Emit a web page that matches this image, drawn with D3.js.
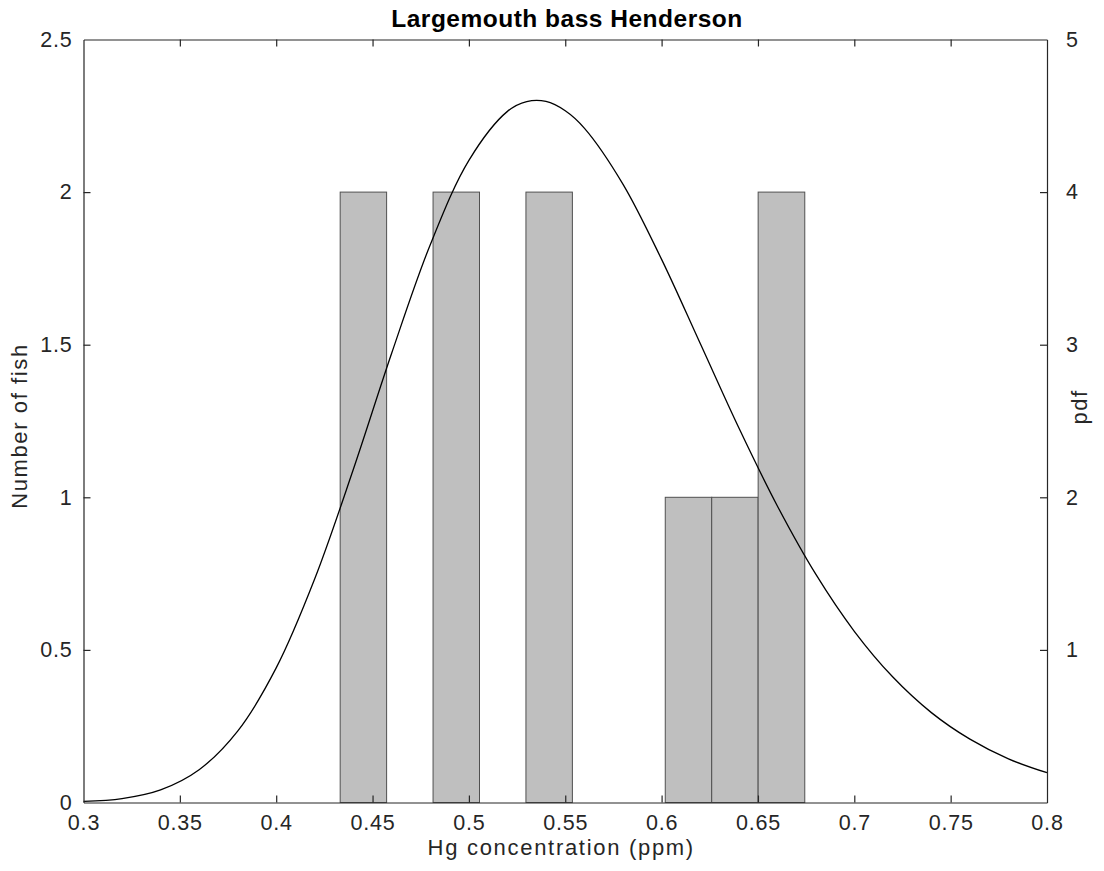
<!DOCTYPE html>
<html>
<head>
<meta charset="utf-8">
<script src="https://cdn.jsdelivr.net/npm/d3@7"></script>
<style>
  html, body { margin: 0; padding: 0; background: #ffffff; }
  svg { display: block; }
  text { font-family: "Liberation Sans", Arial, Helvetica, sans-serif; }
</style>
</head>
<body>
<div id="chart"></div>
<script>
// ---- data ----
const chartTitle = "Largemouth bass Henderson";
const xLabel = "Hg concentration (ppm)";
const yLeftLabel = "Number of fish";
const yRightLabel = "pdf";

// histogram bin edges (ppm) and counts
const binEdges = [0.4332, 0.4573, 0.4814, 0.5055, 0.5296, 0.5537, 0.5778, 0.6019, 0.6260, 0.6501, 0.6743];
const binCounts = [2, 0, 2, 0, 2, 0, 0, 1, 1, 2];

// fitted pdf curve
const pdfX = [0.30, 0.32, 0.34, 0.36, 0.38, 0.40, 0.42, 0.44, 0.46, 0.48, 0.50, 0.52, 0.53, 0.54, 0.55, 0.56, 0.58, 0.60, 0.62, 0.64, 0.66, 0.68, 0.70, 0.72, 0.74, 0.76, 0.78, 0.80];
const pdfY = [0.007, 0.026, 0.083, 0.215, 0.468, 0.882, 1.466, 2.182, 2.947, 3.657, 4.208, 4.529, 4.593, 4.594, 4.533, 4.418, 4.051, 3.559, 3.009, 2.457, 1.945, 1.496, 1.122, 0.822, 0.589, 0.415, 0.286, 0.195];

// axis ticks
const xTicks = [0.3, 0.35, 0.4, 0.45, 0.5, 0.55, 0.6, 0.65, 0.7, 0.75, 0.8];
const yLeftTicks = [0, 0.5, 1, 1.5, 2, 2.5];
const yRightTicks = [1, 2, 3, 4, 5];

// ---- layout ----
const W = 1104, H = 871;
const L = 83.5, R = 1047, T = 39.5, B = 802.5;
const axisColor = "#262626";
const tickLen = 7;

const svg = d3.select("#chart").append("svg")
  .attr("width", W).attr("height", H);

const x = d3.scaleLinear().domain([0.3, 0.8]).range([L, R]);
const yL = d3.scaleLinear().domain([0, 2.5]).range([B, T]);
const yR = d3.scaleLinear().domain([0, 5]).range([B, T]);

// bars
const bars = binCounts.map((c, i) => ({ x0: binEdges[i], x1: binEdges[i + 1], c }))
  .filter(d => d.c > 0);
svg.append("g").selectAll("rect").data(bars).join("rect")
  .attr("x", d => x(d.x0))
  .attr("y", d => yL(d.c))
  .attr("width", d => x(d.x1) - x(d.x0))
  .attr("height", d => yL(0) - yL(d.c))
  .attr("fill", "#bfbfbf")
  .attr("stroke", "#505050")
  .attr("stroke-width", 1);

// pdf curve
const pts = pdfX.map((v, i) => [v, pdfY[i]]);
svg.append("path")
  .datum(pts)
  .attr("fill", "none")
  .attr("stroke", "#000")
  .attr("stroke-width", 1.3)
  .attr("d", d3.line().x(d => x(d[0])).y(d => yR(d[1])).curve(d3.curveCatmullRom.alpha(0.5)));

// axes (MATLAB-style box with inward ticks)
const fmt = d => String(+d.toFixed(2));

const xb = svg.append("g").attr("transform", `translate(0,${B})`)
  .call(d3.axisBottom(x).tickValues(xTicks).tickFormat(fmt).tickSizeInner(-tickLen).tickSizeOuter(0).tickPadding(12));
const xt = svg.append("g").attr("transform", `translate(0,${T})`)
  .call(d3.axisTop(x).tickValues(xTicks).tickFormat("").tickSizeInner(-tickLen).tickSizeOuter(0));
const yl = svg.append("g").attr("transform", `translate(${L},0)`)
  .call(d3.axisLeft(yL).tickValues(yLeftTicks).tickFormat(fmt).tickSizeInner(-tickLen).tickSizeOuter(0).tickPadding(11));
const yr = svg.append("g").attr("transform", `translate(${R},0)`)
  .call(d3.axisRight(yR).tickValues(yRightTicks).tickFormat(fmt).tickSizeInner(-tickLen).tickSizeOuter(0).tickPadding(19));

[xb, xt, yl, yr].forEach(g => {
  g.select(".domain").attr("stroke", axisColor).attr("stroke-width", 1.2);
  g.selectAll(".tick line").attr("stroke", axisColor).attr("stroke-width", 1.2);
  g.selectAll(".tick text")
    .attr("fill", axisColor)
    .style("font-size", "21.5px")
    .style("letter-spacing", "0.8px")
    .style("font-family", "'Liberation Sans', Arial, sans-serif");
});
// no tick marks at the box corners
xb.selectAll(".tick").filter(d => d === 0.3 || d === 0.8).select("line").remove();
xt.selectAll(".tick").filter(d => d === 0.3 || d === 0.8).select("line").remove();
yl.selectAll(".tick").filter(d => d === 0 || d === 2.5).select("line").remove();
yr.selectAll(".tick").filter(d => d === 5).select("line").remove();

// titles
svg.append("text")
  .attr("x", 567).attr("y", 27)
  .attr("text-anchor", "middle")
  .style("font-size", "24.5px")
  .style("font-weight", "bold")
  .style("letter-spacing", "0.5px")
  .attr("fill", "#000")
  .text(chartTitle);

svg.append("text")
  .attr("x", (L + R) / 2 - 4).attr("y", 855)
  .attr("text-anchor", "middle")
  .style("font-size", "22px")
  .style("letter-spacing", "1.7px")
  .attr("fill", axisColor)
  .text(xLabel);

svg.append("text")
  .attr("transform", `translate(27,${(T + B) / 2 + 5}) rotate(-90)`)
  .attr("text-anchor", "middle")
  .style("font-size", "22px")
  .style("letter-spacing", "1.6px")
  .attr("fill", axisColor)
  .text(yLeftLabel);

svg.append("text")
  .attr("transform", `translate(1087,${407}) rotate(-90)`)
  .attr("text-anchor", "middle")
  .style("font-size", "22px")
  .style("letter-spacing", "1.5px")
  .attr("fill", axisColor)
  .text(yRightLabel);
</script>
</body>
</html>
